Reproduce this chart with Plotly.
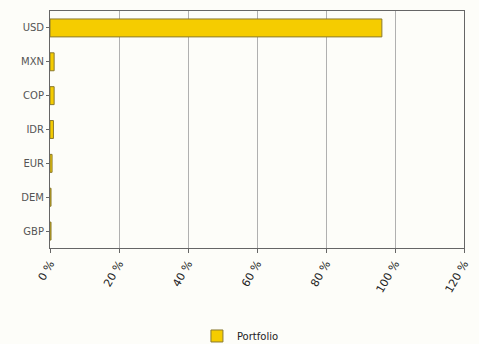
import plotly.graph_objects as go

categories = ["USD", "MXN", "COP", "IDR", "EUR", "DEM", "GBP"]
portfolio = [96.2, 1.2, 1.2, 1.0, 0.6, 0.3, 0.3]
tick_vals = [0, 20, 40, 60, 80, 100, 120]
tick_text = ["0 %", "20 %", "40 %", "60 %", "80 %", "100 %", "120 %"]

fig = go.Figure()
fig.add_trace(go.Bar(
    y=categories, x=portfolio, orientation="h", name="Portfolio",
    marker=dict(color="#F5CC00", line=dict(color="#8a7a30", width=1)),
    width=0.53,
))
fig.update_layout(
    width=479, height=344,
    margin=dict(l=50, r=15, t=11, b=96, autoexpand=False),
    paper_bgcolor="#fdfdf9", plot_bgcolor="#fdfdf9",
    font=dict(family="DejaVu Sans", size=10, color="#333333"),
    showlegend=True,
    legend=dict(orientation="h", x=0.46, xanchor="center", y=-0.31, yanchor="top",
                itemwidth=30, font=dict(size=10, color="#222222"),
                bgcolor="rgba(0,0,0,0)"),
)
fig.update_xaxes(range=[0, 120], tickvals=tick_vals, ticktext=tick_text, tickangle=-60,
                 automargin=False,
                 showgrid=True, gridcolor="#b0b0b0", gridwidth=1,
                 showline=True, linecolor="#666666", mirror=True,
                 ticks="outside", ticklen=4, tickcolor="#666666", zeroline=False,
                 tickfont=dict(size=11, color="#222222"))
fig.update_yaxes(categoryorder="array", categoryarray=categories[::-1],
                 automargin=False,
                 showline=True, linecolor="#666666", mirror=True,
                 ticks="outside", ticklen=3, tickcolor="#666666",
                 tickfont=dict(size=10, color="#555555"))
fig.write_html("out.html", config={"displayModeBar": False},
               post_script="document.body.style.margin='0';document.body.style.overflow='hidden';")
